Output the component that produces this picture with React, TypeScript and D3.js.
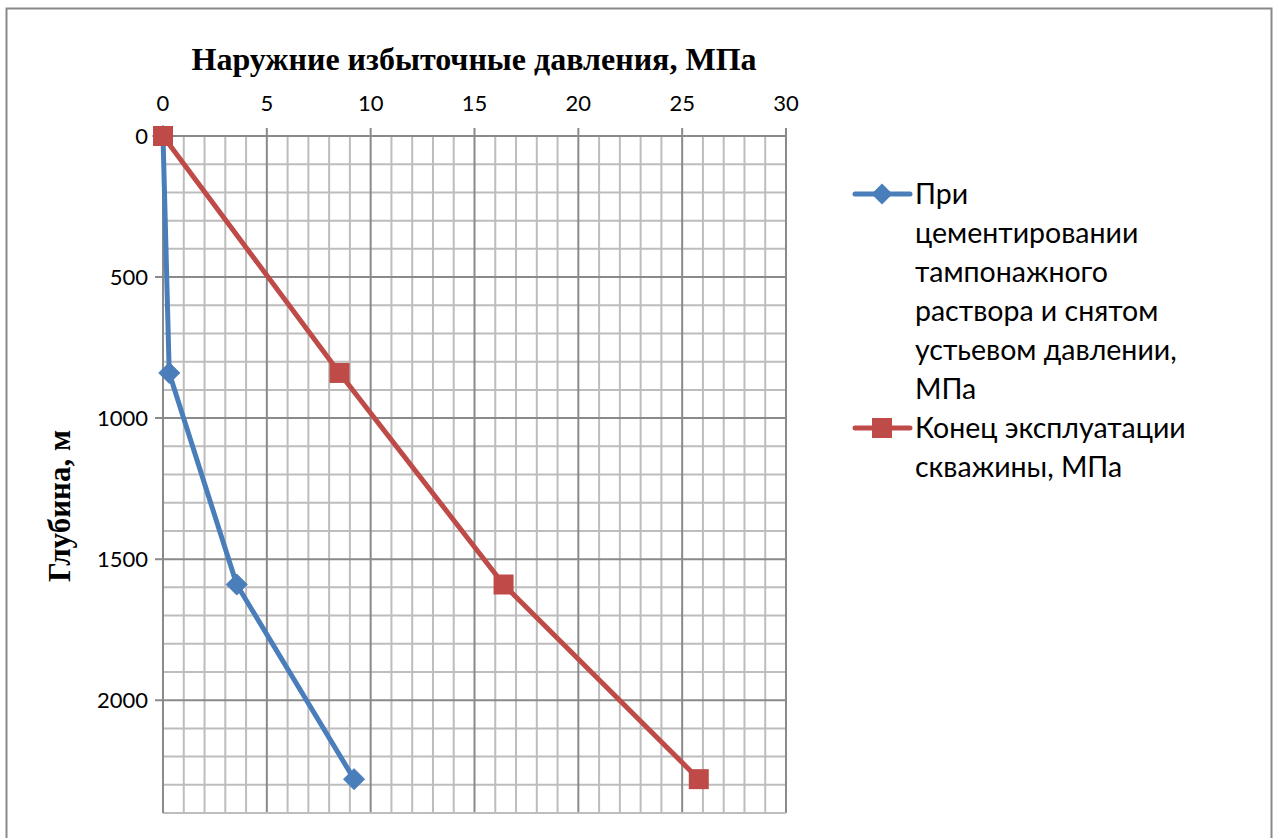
import React from "react";
import * as d3 from "d3";

const depths = [0, 840, 1590, 2280];
const cementing = [0, 0.3, 3.55, 9.2];
const endOfOperation = [0, 8.5, 16.4, 25.8];
const xTicks = [0, 5, 10, 15, 20, 25, 30];
const yTicks = [0, 500, 1000, 1500, 2000];
const title = "Наружние избыточные давления, МПа";
const yTitle = "Глубина, м";
const legend1 = ["При", "цементировании", "тампонажного", "раствора и снятом", "устьевом давлении,", "МПа"];
const legend2 = ["Конец эксплуатации", "скважины, МПа"];

const BLUE = "#4a7ebb";
const RED = "#be4b48";

export default function App() {
  const left = 163, right = 786, top = 136, bottom = 813;
  const x = d3.scaleLinear().domain([0, 30]).range([left, right]);
  const y = d3.scaleLinear().domain([0, 2400]).range([top, bottom]);
  const line = d3.line<[number, number]>().x(d => x(d[0])).y(d => y(d[1]));
  const blueData: [number, number][] = cementing.map((v, i) => [v, depths[i]]);
  const redData: [number, number][] = endOfOperation.map((v, i) => [v, depths[i]]);
  const minorX = d3.range(0, 31, 1).filter(v => v % 5 !== 0);
  const minorY = d3.range(0, 2401, 100).filter(v => v % 500 !== 0);
  const majorX = d3.range(0, 31, 5);
  const majorY = d3.range(0, 2401, 500);
  const sans = "Lato, 'Open Sans', sans-serif";
  const serif = "'Liberation Serif', 'Times New Roman', serif";
  const diamond = (cx: number, cy: number, r: number) => `M${cx},${cy - r}L${cx + r},${cy}L${cx},${cy + r}L${cx - r},${cy}Z`;
  const legX = 915, legY0 = 194, lh = 39;
  return (
    <svg width={1278} height={838} style={{ position: "absolute", left: 0, top: 0 }}>
      <rect x={0} y={0} width={1278} height={838} fill="#fff" />
      <rect x={6.5} y={8.5} width={1265} height={840} fill="#fff" stroke="#898989" strokeWidth={2} />
      {minorX.map(v => <line key={"mx" + v} x1={x(v)} x2={x(v)} y1={top} y2={bottom} stroke="#bdbdbd" strokeWidth={2} />)}
      {minorY.map(v => <line key={"my" + v} x1={left} x2={right} y1={y(v)} y2={y(v)} stroke="#bdbdbd" strokeWidth={2} />)}
      {majorX.map(v => <line key={"Mx" + v} x1={x(v)} x2={x(v)} y1={top - 8} y2={bottom} stroke="#8a8a8a" strokeWidth={2} />)}
      {majorY.map(v => <line key={"My" + v} x1={left - 8} x2={right} y1={y(v)} y2={y(v)} stroke="#8a8a8a" strokeWidth={2} />)}
      <line x1={left} x2={right} y1={bottom} y2={bottom} stroke="#bdbdbd" strokeWidth={2} />
      <line x1={left} x2={left} y1={top} y2={bottom} stroke="#8a8a8a" strokeWidth={2} />
      {xTicks.map(v => (
        <text key={"xt" + v} x={x(v)} y={111} textAnchor="middle" fontFamily={sans} fontSize={22} fill="#000">{v}</text>
      ))}
      {yTicks.map(v => (
        <text key={"yt" + v} x={148} y={y(v) + 8} textAnchor="end" fontFamily={sans} fontSize={22} fill="#000">{v}</text>
      ))}
      <text x={474} y={70} textAnchor="middle" fontFamily={serif} fontWeight="bold" fontSize={32} fill="#000">{title}</text>
      <text transform={`translate(70,506) rotate(-90)`} textAnchor="middle" fontFamily={serif} fontWeight="bold" fontSize={31} fill="#000">{yTitle}</text>
      <path d={line(blueData) || ""} fill="none" stroke={BLUE} strokeWidth={5} strokeLinejoin="round" />
      {blueData.map((d, i) => <path key={"bm" + i} d={diamond(x(d[0]), y(d[1]), 10.5)} fill={BLUE} stroke={BLUE} strokeWidth={1} />)}
      <path d={line(redData) || ""} fill="none" stroke={RED} strokeWidth={5} strokeLinejoin="round" />
      {redData.map((d, i) => <rect key={"rm" + i} x={x(d[0]) - 10} y={y(d[1]) - 10} width={20} height={20} fill={RED} />)}
      <line x1={855} x2={910} y1={legY0} y2={legY0} stroke={BLUE} strokeWidth={5} strokeLinecap="round" />
      <path d={diamond(882, legY0, 10.5)} fill={BLUE} />
      {legend1.map((t, i) => (
        <text key={"l1" + i} x={legX} y={legY0 + i * lh + 10} fontFamily={sans} fontSize={28.5} fill="#000">{t}</text>
      ))}
      <line x1={855} x2={910} y1={legY0 + 6 * lh} y2={legY0 + 6 * lh} stroke={RED} strokeWidth={5} strokeLinecap="round" />
      <rect x={872} y={legY0 + 6 * lh - 10} width={20} height={20} fill={RED} />
      {legend2.map((t, i) => (
        <text key={"l2" + i} x={legX} y={legY0 + (6 + i) * lh + 10} fontFamily={sans} fontSize={28.5} fill="#000">{t}</text>
      ))}
    </svg>
  );
}
